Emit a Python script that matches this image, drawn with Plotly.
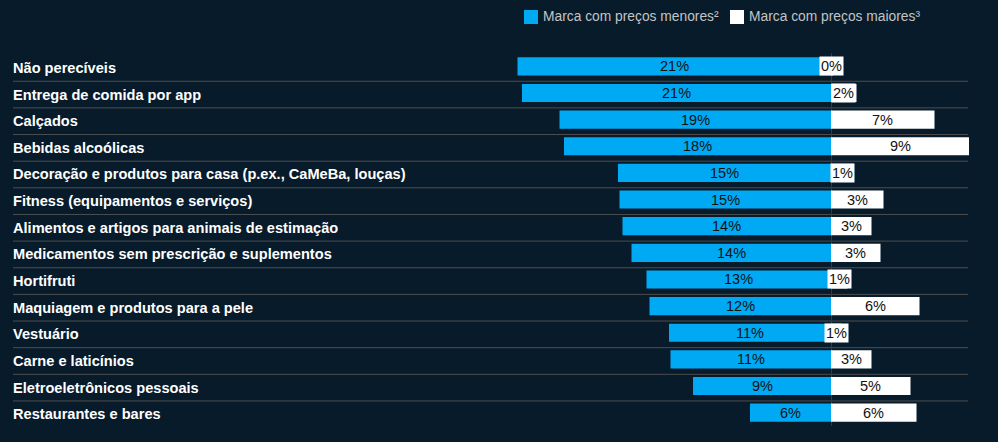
import plotly.graph_objects as go

categories = [
    "Não perecíveis",
    "Entrega de comida por app",
    "Calçados",
    "Bebidas alcoólicas",
    "Decoração e produtos para casa (p.ex., CaMeBa, louças)",
    "Fitness (equipamentos e serviços)",
    "Alimentos e artigos para animais de estimação",
    "Medicamentos sem prescrição e suplementos",
    "Hortifruti",
    "Maquiagem e produtos para a pele",
    "Vestuário",
    "Carne e laticínios",
    "Eletroeletrônicos pessoais",
    "Restaurantes e bares",
]
lower_vals = [20.9, 20.6, 18.1, 17.8, 14.2, 14.1, 13.9, 13.3, 12.3, 12.1, 10.8, 10.7, 9.2, 5.4]
higher_vals = [0.1, 1.7, 6.9, 9.2, 1.5, 3.5, 2.7, 3.3, 1.1, 5.9, 0.7, 2.7, 5.3, 5.7]
lower_labels = ["21%", "21%", "19%", "18%", "15%", "15%", "14%", "14%", "13%", "12%", "11%", "11%", "9%", "6%"]
higher_labels = ["0%", "2%", "7%", "9%", "1%", "3%", "3%", "3%", "1%", "6%", "1%", "3%", "5%", "6%"]
series_names = ["Marca com preços menores²", "Marca com preços maiores³"]

BG = "#071b2b"
BLUE = "#00A9F4"
WHITE = "#FFFFFF"
W, H = 998, 442
ML, MR, MT, MB = 13, 23, 53, 16
PX_PER_UNIT = 15.0
ZERO_PX = 831
x_min = -(ZERO_PX - ML) / PX_PER_UNIT
x_max = (W - MR - ZERO_PX) / PX_PER_UNIT
plot_w = W - ML - MR
plot_h = H - MT - MB


def paper_x(px):
    return (px - ML) / plot_w


def paper_y(py):
    return (H - MB - py) / plot_h


n = len(categories)
idx = list(range(n))

fig = go.Figure()
fig.add_trace(go.Bar(
    y=idx, x=[-v for v in lower_vals], orientation="h",
    marker=dict(color=BLUE, line=dict(width=0)), name=series_names[0],
    hoverinfo="skip",
))
fig.add_trace(go.Bar(
    y=idx, x=higher_vals, orientation="h",
    marker=dict(color=WHITE, line=dict(width=0)), name=series_names[1],
    hoverinfo="skip",
))

annotations = []
label_font = dict(family="Liberation Sans, Arial, sans-serif", size=14.5, color="#111111")
for i in idx:
    annotations.append(dict(
        x=-lower_vals[i] / 2, y=i, xref="x", yref="y", text=lower_labels[i],
        showarrow=False, font=label_font, xanchor="center", yanchor="middle",
    ))
    small = higher_vals[i] < 2
    annotations.append(dict(
        x=higher_vals[i] / 2, y=i, xref="x", yref="y", text=higher_labels[i],
        showarrow=False, font=label_font, xanchor="center", yanchor="middle",
        bgcolor=WHITE if small else None, borderpad=1,
    ))
    annotations.append(dict(
        x=0, y=i + 0.06, xref="paper", yref="y", text=categories[i],
        showarrow=False, xanchor="left", yanchor="middle", xshift=-2,
        font=dict(family="Liberation Sans, Arial, sans-serif", size=14.6,
                  color="#ffffff", weight=700),
    ))

shapes = []
sep_end = (968 - ZERO_PX) / PX_PER_UNIT
for i in range(n - 1):
    shapes.append(dict(
        type="line", xref="x", yref="y", x0=x_min, x1=sep_end,
        y0=i + 0.56, y1=i + 0.56, line=dict(color="#4e4e4e", width=1), layer="below",
    ))

# manual legend
legend_items = [(series_names[0], BLUE, 524), (series_names[1], WHITE, 730)]
for name, col, px in legend_items:
    shapes.append(dict(
        type="rect", xref="paper", yref="paper",
        x0=paper_x(px), x1=paper_x(px + 14), y0=paper_y(24), y1=paper_y(10),
        fillcolor=col, line=dict(width=0),
    ))
    annotations.append(dict(
        x=paper_x(px + 17), y=paper_y(17), xref="paper", yref="paper", text=name,
        showarrow=False, xanchor="left", yanchor="middle",
        font=dict(family="Liberation Sans, Arial, sans-serif", size=13.8, color="#c4c4c4"),
    ))

fig.update_layout(
    width=W, height=H,
    paper_bgcolor=BG, plot_bgcolor=BG,
    margin=dict(l=ML, r=MR, t=MT, b=MB),
    barmode="relative", bargap=0.32,
    showlegend=False,
    xaxis=dict(range=[x_min, x_max], showgrid=False, showticklabels=False,
               zeroline=True, zerolinecolor="#3a3a3a", zerolinewidth=1,
               layer="above traces", fixedrange=True),
    yaxis=dict(range=[n - 0.5, -0.5], showgrid=False, showticklabels=False,
               zeroline=False, fixedrange=True),
    annotations=annotations,
    shapes=shapes,
)

fig.write_html(
    "out.html",
    config={"displayModeBar": False},
    post_script="document.body.style.margin='0';document.body.style.overflow='hidden';"
                "document.body.style.background='" + BG + "';",
)
